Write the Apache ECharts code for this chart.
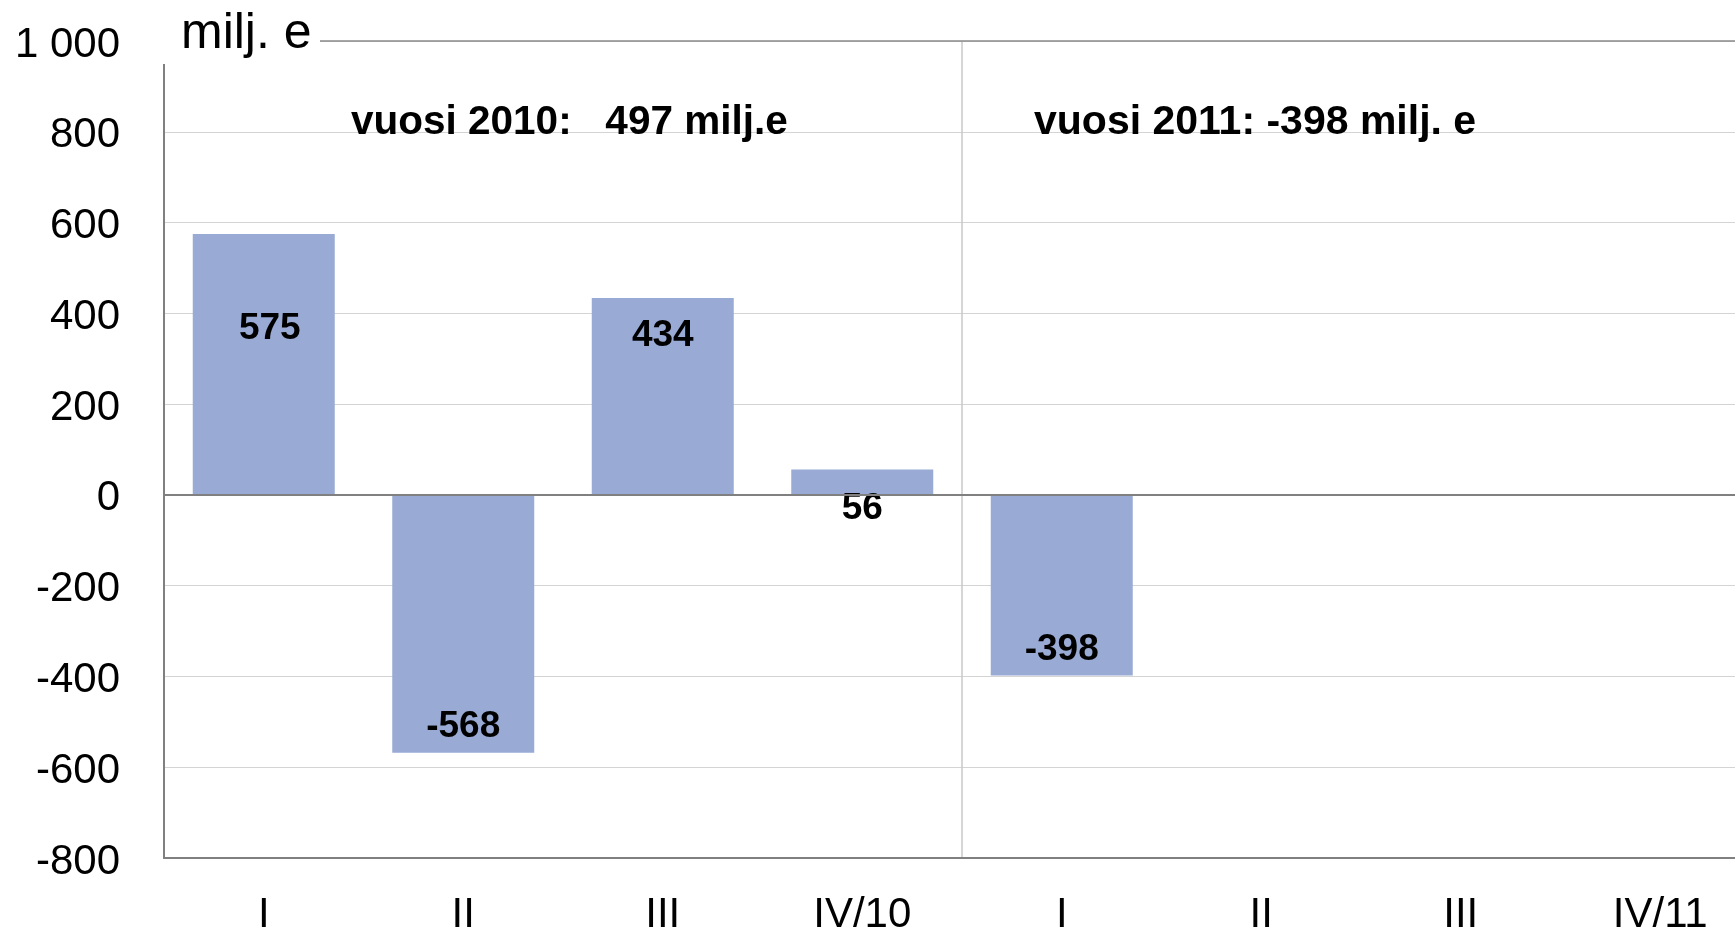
<!DOCTYPE html>
<html>
<head>
<meta charset="utf-8">
<script src="https://cdn.jsdelivr.net/npm/echarts@6/dist/echarts.min.js"></script>
<style>
  html, body { margin: 0; padding: 0; background: #fff; overflow: hidden; }
  #chart { width: 1760px; height: 934px; }
</style>
</head>
<body>
<div id="chart"></div>
<script>
// kvartaalit 2010-2011
const categories = ['I', 'II', 'III', 'IV/10', 'I', 'II', 'III', 'IV/11'];
const balance = [575, -568, 434, 56, -398, null, null, null];
const yMin = -800;
const yMax = 1000;
const yStep = 200;
const yearTotals = [497, -398];

const font = "'Liberation Sans', Arial, sans-serif";

// label placement per bar (Excel put them a bit unevenly)
const labelPlace = [
  { position: 'insideTop', distance: 76, offset: [6, 0] },
  { position: 'insideBottom', distance: 7 },
  { position: 'insideTop', distance: 19 },
  { position: 'bottom', distance: -5 },
  { position: 'insideBottom', distance: 7 }
];

const barData = balance.map(function (v, i) {
  if (v === null) return null;
  return { value: v, label: labelPlace[i] || {} };
});

// only the boundary between the years gets a vertical line
const yearSplitColors = categories.map(function (c, i) {
  return i === 4 ? '#c8c8c8' : 'rgba(0,0,0,0)';
});

const chart = echarts.init(document.getElementById('chart'));

const option = {
  animation: false,
  backgroundColor: '#fff',
  grid: { left: 164, right: 0, top: 41, bottom: 76, containLabel: false, outerBoundsMode: 'none' },
  xAxis: [
    {
      type: 'category',
      data: categories,
      position: 'bottom',
      axisLine: { onZero: false, lineStyle: { color: '#808080', width: 2 } },
      axisTick: { show: false },
      axisLabel: { color: '#000', fontSize: 42, fontFamily: font, margin: 36 },
      splitLine: {
        show: true,
        interval: 0,
        showMinLine: true,
        showMaxLine: true,
        lineStyle: { color: yearSplitColors, width: 1.5 }
      }
    },
    {
      type: 'category',
      data: categories,
      position: 'top',
      axisLine: { onZero: false, lineStyle: { color: '#8a8a8a', width: 1.5 } },
      axisTick: { show: false },
      axisLabel: { show: false }
    }
  ],
  yAxis: {
    type: 'value',
    min: yMin,
    max: yMax,
    interval: yStep,
    axisLine: { show: true, lineStyle: { color: '#808080', width: 2 } },
    axisTick: { show: false },
    axisLabel: {
      color: '#000',
      fontSize: 42,
      fontFamily: font,
      margin: 44,
      verticalAlign: 'top',
      lineHeight: 8,
      formatter: function (v) {
        return Math.abs(v) >= 1000 ? String(v).replace(/(\d)(\d{3})$/, '$1 $2') : String(v);
      }
    },
    splitLine: { lineStyle: { color: '#d4d4d4', width: 1.2 } }
  },
  series: [
    {
      type: 'bar',
      data: barData,
      barWidth: 142,
      itemStyle: { color: '#99aad4' },
      label: {
        show: true,
        color: '#000',
        fontSize: 37,
        fontWeight: 'bold',
        fontFamily: font
      },
      markLine: {
        silent: true,
        symbol: 'none',
        label: { show: false },
        lineStyle: { color: '#808080', width: 2, type: 'solid' },
        data: [{ yAxis: 0 }]
      }
    }
  ],
  graphic: [
    {
      type: 'rect',
      z: 100,
      shape: { x: 150, y: 20, width: 170, height: 44 },
      style: { fill: '#fff' }
    },
    {
      type: 'text',
      z: 101,
      x: 181,
      y: 34,
      style: { text: 'milj. e', fontSize: 50, fontFamily: font, fill: '#000', verticalAlign: 'middle' }
    },
    {
      type: 'text',
      z: 101,
      x: 351,
      y: 123,
      style: { text: 'vuosi 2010:   ' + yearTotals[0] + ' milj.e', fontSize: 40.5, fontWeight: 'bold', fontFamily: font, fill: '#000', verticalAlign: 'middle' }
    },
    {
      type: 'text',
      z: 101,
      x: 1034,
      y: 123,
      style: { text: 'vuosi 2011: ' + yearTotals[1] + ' milj. e', fontSize: 41, fontWeight: 'bold', fontFamily: font, fill: '#000', verticalAlign: 'middle' }
    }
  ]
};

chart.setOption(option);
</script>
</body>
</html>
